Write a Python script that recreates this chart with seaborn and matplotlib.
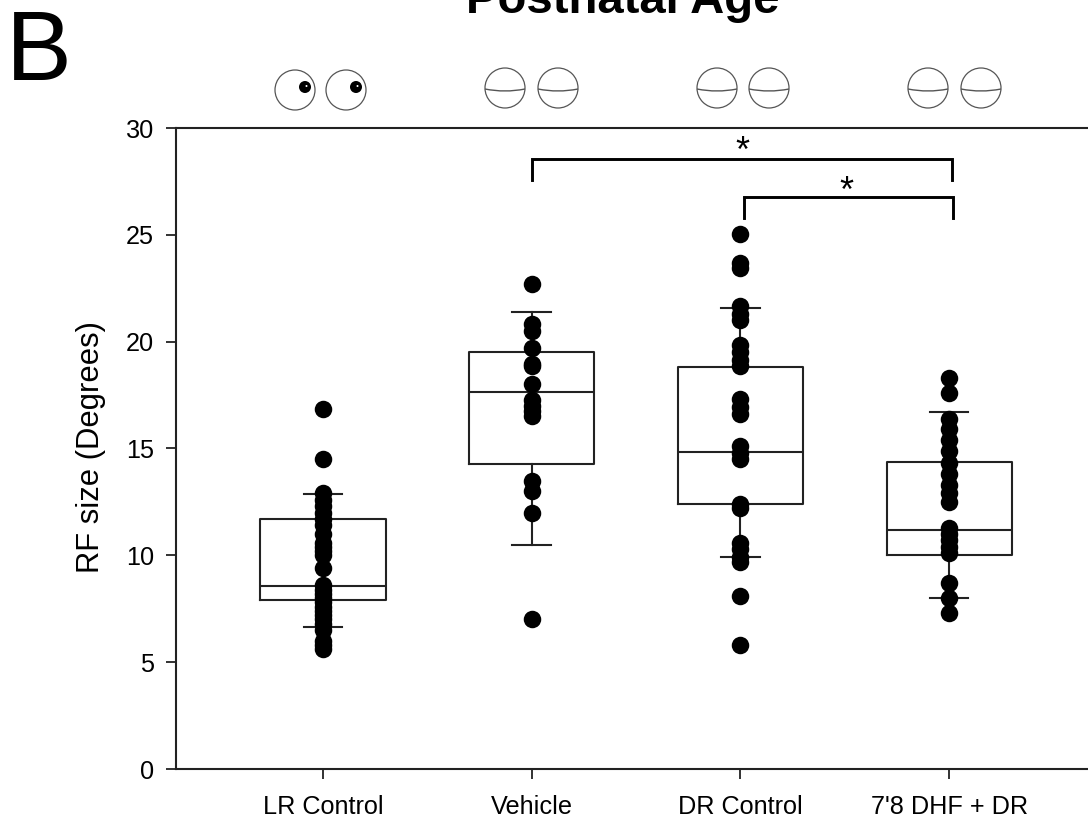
#!/usr/bin/env python3
"""RF size per rearing group, box plots with the single cells on top."""

import matplotlib
matplotlib.use("Agg")
import matplotlib.pyplot as plt
from matplotlib.patches import Circle, PathPatch
from matplotlib.path import Path
import pandas as pd
import seaborn as sns

groups = ["LR Control", "Vehicle", "DR Control", "7'8 DHF + DR"]

lr_control = [16.85, 14.5, 12.9, 12.6, 12.3, 12.0, 11.7, 11.4, 11.0, 10.6, 10.4, 10.2, 10.0,
              9.4, 8.6, 8.4, 8.2, 8.0, 7.8, 7.6, 7.4, 7.2, 7.0, 6.8, 6.5, 6.0, 5.8, 5.6]
vehicle = [22.69, 20.84, 20.5, 19.69, 18.97, 18.86, 18.02, 17.25, 17.0, 16.75, 16.52,
           13.5, 13.0, 12.0, 7.0]
dr_control = [25.03, 23.66, 23.43, 21.66, 21.3, 21.0, 19.83, 19.5, 19.15, 18.84, 17.3, 16.95,
              16.6, 15.1, 14.8, 14.5, 12.4, 12.2, 10.6, 10.3, 9.9, 9.7, 8.1, 5.8]
dhf_dr = [18.3, 17.6, 16.4, 15.9, 15.4, 14.9, 14.3, 13.8, 13.3, 12.9, 12.5, 11.3, 11.0, 10.7,
          10.4, 10.1, 8.7, 8.0, 7.3]

# box stats, same order as groups
q1 = [7.9, 14.27, 12.4, 10.0]
medians = [8.56, 17.63, 14.83, 11.18]
q3 = [11.7, 19.5, 18.8, 14.39]
whisker_low = [6.65, 10.49, 9.92, 8.0]
whisker_high = [12.88, 21.38, 21.57, 16.7]

y_ticks = [0, 5, 10, 15, 20, 25, 30]

plt.rcParams["font.family"] = ["Liberation Sans", "DejaVu Sans"]

df = pd.concat([
    pd.DataFrame({"group": name, "rf": values})
    for name, values in zip(groups, [lr_control, vehicle, dr_control, dhf_dr])
])

W, H = 1088, 821
fig = plt.figure(figsize=(W / 100, H / 100), dpi=100)
ax = fig.add_axes([176 / W, 1 - 769 / H, (W - 176 + 1) / W, (769 - 128) / H])

stats = [
    {"med": m, "q1": a, "q3": b, "whislo": lo, "whishi": hi, "fliers": []}
    for m, a, b, lo, hi in zip(medians, q1, q3, whisker_low, whisker_high)
]
line = {"color": "#222222", "linewidth": 1.5}
ax.bxp(stats, positions=range(4), widths=0.6, showfliers=False,
       boxprops=line, medianprops=line, whiskerprops=line, capprops=line,
       capwidths=0.185)

sns.stripplot(data=df, x="group", y="rf", order=groups, jitter=False, color="black",
              size=12.6, linewidth=0, zorder=3, ax=ax)

ax.set_xlim(-0.704, 3.67)
ax.set_ylim(0, 30)
ax.set_yticks(y_ticks)
ax.set_xticks(range(4))
ax.set_xticklabels(groups)
ax.set_xlabel("")
ax.set_ylabel("RF size (Degrees)", fontsize=22.3)
ax.yaxis.set_label_coords(-0.077, 0.503)
ax.tick_params(axis="both", labelsize=18.2, length=7, width=1.3, color="#222222")
ax.tick_params(axis="x", pad=12)
ax.tick_params(axis="y", pad=9)
ax.spines["right"].set_visible(False)
for side in ["left", "top", "bottom"]:
    ax.spines[side].set_linewidth(1.5)
    ax.spines[side].set_color("#222222")

# significance brackets
ax.plot([1, 1, 3.015, 3.015], [27.56, 28.54, 28.54, 27.56], color="black", lw=2.1,
        solid_joinstyle="miter", clip_on=False)
ax.plot([2.016, 2.016, 3.018, 3.018], [25.78, 26.77, 26.77, 25.78], color="black", lw=2.1,
        solid_joinstyle="miter", clip_on=False)
ax.text(2.01, 28.42, "*", fontsize=26, ha="center", va="baseline")
ax.text(2.51, 26.55, "*", fontsize=26, ha="center", va="baseline")

# pixel overlay for the title, panel letter and eye icons
over = fig.add_axes([0, 0, 1, 1], facecolor="none")
over.set_xlim(0, W)
over.set_ylim(H, 0)
over.axis("off")
over.text(623, 13, "Postnatal Age", fontsize=34, fontweight="bold", ha="center", va="baseline")
over.text(6, 80, "B", fontsize=71, ha="left", va="baseline")

eye_grey = "#555555"
for cx, cy in [(295, 90), (346, 90), (505, 88), (558, 88), (717, 88), (769, 88), (928, 88), (981, 88)]:
    over.add_patch(Circle((cx, cy), 20, fill=False, ec=eye_grey, lw=0.9))
for cx, cy in [(505, 88), (558, 88), (717, 88), (769, 88), (928, 88), (981, 88)]:
    lid = Path([(cx - 20, cy + 1), (cx, cy + 5), (cx + 20, cy + 1)],
               [Path.MOVETO, Path.CURVE3, Path.CURVE3])
    over.add_patch(PathPatch(lid, fill=False, ec=eye_grey, lw=1.0))
for px, py in [(305, 87), (356, 87)]:
    over.add_patch(Circle((px, py), 6, fc="black", ec="none"))
    over.add_patch(Circle((px + 1.5, py - 1), 1, fc="white", ec="none"))

fig.savefig("out.png", dpi=100)
